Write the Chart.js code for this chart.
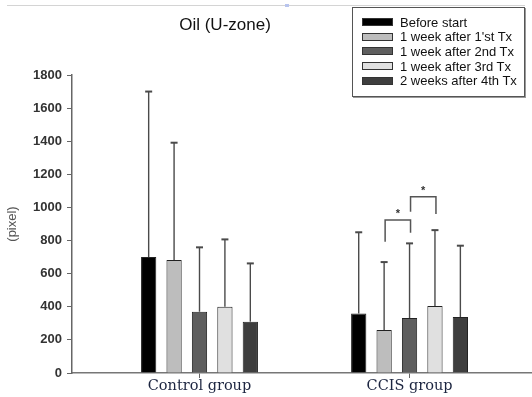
<!DOCTYPE html>
<html lang="en">
<head>
  <meta charset="UTF-8">
  <title>Oil (U-zone)</title>
  <script src="https://cdn.jsdelivr.net/npm/chart.js"></script>
  <style>
    * {
      box-sizing: border-box;
      margin: 0;
      padding: 0;
    }

    body {
      background: white;
      width: 532px;
      height: 397px;
      overflow: hidden;
      position: relative;
      font-family: 'Liberation Sans', Arial, sans-serif;
    }

    #chart {
      position: absolute;
      left: 0;
      top: 0;
    }

    .topline {
      position: absolute;
      left: 7px;
      top: 5px;
      width: 518px;
      height: 1px;
      background: #d4d4d4;
    }

    .mark {
      position: absolute;
      left: 285px;
      top: 4px;
      width: 4px;
      height: 3px;
      background: #b8c4ee;
    }

    .legend {
      position: absolute;
      left: 352px;
      top: 7px;
      width: 173px;
      height: 90px;
      border: 1px solid #555;
      box-shadow: 1px 1px 0 #999;
      background: white;
      padding: 7px 0 0 9px;
    }

    .legend .item {
      display: flex;
      align-items: center;
      height: 14.6px;
      font-size: 13px;
      color: #111;
    }

    .legend .swatch {
      width: 31px;
      height: 8px;
      border: 1px solid #333;
      margin-right: 7px;
    }
  </style>
</head>
<body>

<canvas id="chart" width="532" height="397"></canvas>
<div class="topline"></div>
<div class="mark"></div>
<div class="legend" id="legend"></div>

<script>
  const categories = ['Control group', 'CCIS group'];
  const seriesNames = ['Before start', '1 week after 1\'st Tx', '1 week after 2nd Tx', '1 week after 3rd Tx', '2 weeks after 4th Tx'];
  const seriesColors = ['#000000', '#bdbdbd', '#5e5e5e', '#e0e0e0', '#3e3e3e'];

  // mean per series: [control, ccis]
  const means = [
    [700, 360],
    [682, 260],
    [370, 332],
    [400, 405],
    [310, 338]
  ];
  // SD (upward error bars only)
  const sds = [
    [1000, 490],
    [709, 410],
    [389, 451],
    [407, 458],
    [352, 431]
  ];
  const yTicks = [0, 200, 400, 600, 800, 1000, 1200, 1400, 1600, 1800];

  // significance brackets in the CCIS group: series a vs b
  const sigBrackets = [
    { group: 1, a: 1, b: 2, top: 924, legA: 793, legB: 847 },
    { group: 1, a: 2, b: 3, top: 1065, legA: 974, legB: 960 }
  ];

  // legend
  const legendEl = document.getElementById('legend');
  seriesNames.forEach((name, i) => {
    const item = document.createElement('div');
    item.className = 'item';
    item.innerHTML = '<span class="swatch" style="background:' + seriesColors[i] + '"></span><span></span>';
    item.lastChild.textContent = name;
    legendEl.appendChild(item);
  });

  const errorBars = {
    id: 'errorBars',
    afterDatasetsDraw(chart) {
      const ctx = chart.ctx;
      const y = chart.scales.y;
      ctx.save();
      ctx.strokeStyle = '#4a4a4a';
      ctx.lineWidth = 1.4;
      chart.data.datasets.forEach((ds, di) => {
        const meta = chart.getDatasetMeta(di);
        meta.data.forEach((bar, i) => {
          const top = y.getPixelForValue(means[di][i] + sds[di][i]);
          ctx.beginPath();
          ctx.moveTo(bar.x, bar.y);
          ctx.lineTo(bar.x, top);
          ctx.stroke();
          ctx.lineWidth = 2;
          ctx.beginPath();
          ctx.moveTo(bar.x - 3.5, top);
          ctx.lineTo(bar.x + 3.5, top);
          ctx.stroke();
          ctx.lineWidth = 1.4;
        });
      });

      // brackets
      ctx.strokeStyle = '#555';
      ctx.lineWidth = 1.5;
      ctx.fillStyle = '#333';
      ctx.font = 'bold 11px "Liberation Sans", Arial';
      ctx.textAlign = 'center';
      sigBrackets.forEach(s => {
        const xa = chart.getDatasetMeta(s.a).data[s.group].x + 1;
        const xb = chart.getDatasetMeta(s.b).data[s.group].x + 1;
        const yt = y.getPixelForValue(s.top);
        ctx.beginPath();
        ctx.moveTo(xa, y.getPixelForValue(s.legA));
        ctx.lineTo(xa, yt);
        ctx.lineTo(xb, yt);
        ctx.lineTo(xb, y.getPixelForValue(s.legB));
        ctx.stroke();
        ctx.fillText('*', (xa + xb) / 2, yt - 3);
      });

      // title
      ctx.fillStyle = '#111';
      ctx.font = '17px "Liberation Sans", Arial';
      ctx.textAlign = 'center';
      ctx.textBaseline = 'middle';
      ctx.fillText('Oil (U-zone)', 225, 25);
      ctx.restore();
    }
  };

  new Chart(document.getElementById('chart'), {
    type: 'bar',
    data: {
      datasets: seriesNames.map((name, i) => ({
        label: name,
        data: means[i].map((v, j) => ({ x: j + 1, y: v })),
        backgroundColor: seriesColors[i],
        borderColor: '#222',
        borderWidth: 1,
        categoryPercentage: 0.605,
        barPercentage: 0.6
      }))
    },
    options: {
      responsive: false,
      animation: false,
      layout: { padding: { top: 75, right: 0, left: 0, bottom: 0 } },
      plugins: {
        legend: { display: false },
        tooltip: { enabled: false }
      },
      scales: {
        x: {
          type: 'linear',
          offset: false,
          min: 0.393,
          max: 2.583,
          afterBuildTicks: s => { s.ticks = categories.map((c, i) => ({ value: i + 1 })); },
          afterFit: s => { s.height = 24; },
          ticks: {
            callback: v => categories[v - 1],
            color: '#1c2540',
            font: { family: '"DejaVu Serif", serif', size: 14.5 },
            padding: 0
          },
          grid: { offset: false, drawOnChartArea: false, tickLength: 5, color: '#666' },
          border: { color: '#777', width: 1.5 }
        },
        y: {
          min: 0,
          max: 1800,
          afterBuildTicks: s => { s.ticks = yTicks.map(v => ({ value: v })); },
          afterFit: s => { s.width = 72; },
          ticks: {
            callback: v => String(v),
            color: '#333',
            font: { family: '"Liberation Sans", Arial', size: 13, weight: 'bold' },
            padding: 5
          },
          grid: { drawOnChartArea: false, tickLength: 5, color: '#666' },
          border: { color: '#666', width: 1.5 },
          title: {
            display: true,
            text: '(pixel)',
            color: '#555',
            font: { family: '"Liberation Sans", Arial', size: 13 },
            padding: { top: 5, bottom: 0 }
          }
        }
      }
    },
    plugins: [errorBars]
  });
</script>

</body>
</html>
